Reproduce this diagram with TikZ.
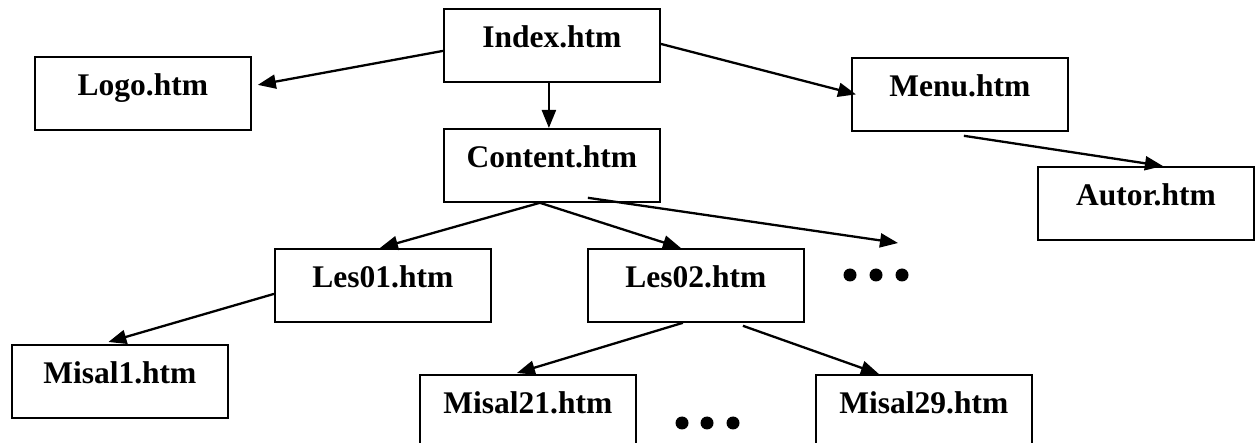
\documentclass[tikz,border=0pt]{standalone}
\usepackage{fontspec}
\setmainfont{Liberation Serif}
\usetikzlibrary{arrows.meta}
\tikzset{
  page/.style={draw, line width=1.8pt, anchor=north west, inner xsep=0pt, inner ysep=0pt,
    text width=216pt, align=center, text height=39pt, text depth=34pt,
    font=\fontsize{31.5}{36}\selectfont\bfseries},
  link/.style={line width=2.3pt, -{Triangle[length=18pt,width=14pt]}},
  dot/.style={fill=black}
}
\begin{document}
\begin{tikzpicture}[x=1pt,y=-1pt]
\useasboundingbox[fill=white] (0,0) rectangle (1259,443);
\node[page] (index) at (443,8) {Index.htm};
\node[page] (logo) at (34,56) {Logo.htm};
\node[page] (menu) at (851,57) {Menu.htm};
\node[page] (content) at (443,128) {Content.htm};
\node[page] (autor) at (1037,166) {Autor.htm};
\node[page] (les01) at (274,248) {Les01.htm};
\node[page] (les02) at (587,248) {Les02.htm};
\node[page] (misal1) at (11,344) {Misal1.htm};
\node[page] (misal21) at (419,374) {Misal21.htm};
\node[page] (misal29) at (815,374) {Misal29.htm};
\coordinate (more) at (898,243);
\fill[dot] (850,275) circle (6.5) (876,275) circle (6.5) (902,275) circle (6.5);
\fill[dot] (682,423) circle (6.5) (707,423) circle (6.5) (733,423) circle (6.5);
\draw[link] ([yshift=-5.5pt]index.west) -- ([xshift=6pt,yshift=8.5pt]logo.east);
\draw[link] ([xshift=-3pt]index.south) -- ([xshift=-3pt]content.north);
\draw[link] ([yshift=1.5pt]index.east) -- ([xshift=5pt]menu.west);
\draw[link] ([xshift=4pt,yshift=-4pt]menu.south) -- ([xshift=17pt]autor.north);
\draw[link] ([xshift=-12pt]content.south) -- ([xshift=-3pt]les01.north);
\draw[link] ([xshift=-12pt]content.south) -- ([xshift=-15pt]les02.north);
\draw[link] ([xshift=36pt,yshift=5pt]content.south) -- (more);
\draw[link] ([yshift=-8.5pt]les01.west) -- ([xshift=-11.5pt,yshift=2pt]misal1.north);
\draw[link] ([xshift=-13pt]les02.south) -- ([xshift=-11pt,yshift=1pt]misal21.north);
\draw[link] ([xshift=47pt,yshift=-3pt]les02.south) -- ([xshift=-45pt]misal29.north);
\end{tikzpicture}
\end{document}
